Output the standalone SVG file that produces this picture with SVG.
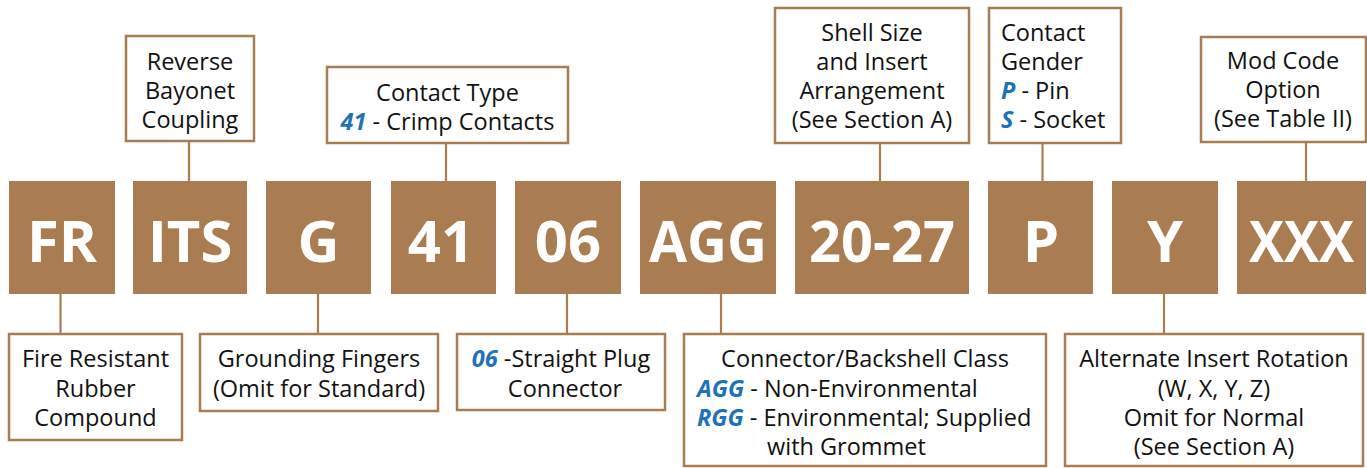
<svg xmlns="http://www.w3.org/2000/svg" width="1367" height="468" viewBox="0 0 1367 468">
<style>
.code{fill:#a97c52}
.ct{font-family:"Open Sans","Noto Sans",sans-serif;font-weight:700;font-size:58px;fill:#ffffff;text-anchor:middle}
.box{fill:#ffffff;stroke:#a97c52;stroke-width:2.5}
.lbl{font-family:"Open Sans","Noto Sans",sans-serif;font-size:23.5px;fill:#111111}
.mid{text-anchor:middle}
.hl{font-weight:700;font-style:italic;fill:#1f72b8}
.conn line{stroke:#a97c52;stroke-width:2.2}
</style>
<rect width="1367" height="468" fill="#ffffff"/>
<g class="conn" id="connectors">
<line x1="60.5" y1="294" x2="60.5" y2="334"/>
<line x1="189" y1="141" x2="189" y2="181"/>
<line x1="318" y1="294" x2="318" y2="334"/>
<line x1="446" y1="143" x2="446" y2="181"/>
<line x1="567" y1="294" x2="567" y2="334"/>
<line x1="721" y1="294" x2="721" y2="334"/>
<line x1="880" y1="143" x2="880" y2="181"/>
<line x1="1042.5" y1="143" x2="1042.5" y2="181"/>
<line x1="1164" y1="294" x2="1164" y2="334"/>
<line x1="1306" y1="142" x2="1306" y2="181"/>
</g>
<g id="code-FR"><rect class="code" x="9" y="181" width="106" height="113"/><text class="ct" x="62" y="262">FR</text></g>
<g id="code-ITS"><rect class="code" x="133" y="181" width="114" height="113"/><text class="ct" x="190" y="262">ITS</text></g>
<g id="code-G"><rect class="code" x="266" y="181" width="105" height="113"/><text class="ct" x="318.5" y="262">G</text></g>
<g id="code-41"><rect class="code" x="391" y="181" width="105" height="113"/><text class="ct" x="441" y="262">41</text></g>
<g id="code-06"><rect class="code" x="515" y="181" width="106" height="113"/><text class="ct" x="568" y="262">06</text></g>
<g id="code-AGG"><rect class="code" x="640" y="181" width="136" height="113"/><text class="ct" x="708" y="262" textLength="118" lengthAdjust="spacingAndGlyphs">AGG</text></g>
<g id="code-2027"><rect class="code" x="795" y="181" width="174" height="113"/><text class="ct" x="882" y="262" textLength="146" lengthAdjust="spacingAndGlyphs">20-27</text></g>
<g id="code-P"><rect class="code" x="988" y="181" width="105" height="113"/><text class="ct" x="1041" y="262">P</text></g>
<g id="code-Y"><rect class="code" x="1112" y="181" width="106" height="113"/><text class="ct" x="1165" y="262">Y</text></g>
<g id="code-XXX"><rect class="code" x="1237" y="181" width="129" height="113"/><text class="ct" x="1301.5" y="262" textLength="105" lengthAdjust="spacingAndGlyphs">XXX</text></g>

<g id="lbl-reverse"><rect class="box" x="126" y="36" width="128" height="105"/>
<text class="lbl mid" x="190" y="70">Reverse</text>
<text class="lbl mid" x="190" y="99">Bayonet</text>
<text class="lbl mid" x="190" y="128">Coupling</text></g>
<g id="lbl-contacttype"><rect class="box" x="327" y="67" width="241" height="76"/>
<text class="lbl mid" x="447.5" y="101">Contact Type</text>
<text class="lbl mid" x="447.5" y="130"><tspan class="hl">41</tspan> - Crimp Contacts</text></g>
<g id="lbl-shell"><rect class="box" x="775" y="8" width="194" height="135"/>
<text class="lbl mid" x="872" y="41">Shell Size</text>
<text class="lbl mid" x="872" y="70">and Insert</text>
<text class="lbl mid" x="872" y="99">Arrangement</text>
<text class="lbl mid" x="872" y="128">(See Section A)</text></g>
<g id="lbl-gender"><rect class="box" x="989" y="8" width="132" height="135"/>
<text class="lbl" x="1001" y="41">Contact</text>
<text class="lbl" x="1001" y="70">Gender</text>
<text class="lbl" x="1001" y="99"><tspan class="hl">P</tspan> - Pin</text>
<text class="lbl" x="1001" y="128"><tspan class="hl">S</tspan> - Socket</text></g>
<g id="lbl-mod"><rect class="box" x="1201" y="37" width="165" height="105"/>
<text class="lbl mid" x="1283" y="69">Mod Code</text>
<text class="lbl mid" x="1283" y="98">Option</text>
<text class="lbl mid" x="1283" y="127">(See Table II)</text></g>

<g id="lbl-fire"><rect class="box" x="9" y="334" width="173" height="106"/>
<text class="lbl mid" x="95.5" y="367">Fire Resistant</text>
<text class="lbl mid" x="95.5" y="397">Rubber</text>
<text class="lbl mid" x="95.5" y="426">Compound</text></g>
<g id="lbl-grounding"><rect class="box" x="200" y="334" width="238" height="77"/>
<text class="lbl mid" x="319" y="367">Grounding Fingers</text>
<text class="lbl mid" x="319" y="397">(Omit for Standard)</text></g>
<g id="lbl-straight"><rect class="box" x="457" y="334" width="208" height="76"/>
<text class="lbl mid" x="561" y="367"><tspan class="hl">06</tspan> -Straight Plug</text>
<text class="lbl mid" x="565" y="397">Connector</text></g>
<g id="lbl-class"><rect class="box" x="684" y="334" width="362" height="132"/>
<text class="lbl mid" x="865" y="367">Connector/Backshell Class</text>
<text class="lbl" x="697" y="397"><tspan class="hl">AGG</tspan> - Non-Environmental</text>
<text class="lbl" x="697" y="426"><tspan class="hl">RGG</tspan> - Environmental; Supplied</text>
<text class="lbl" x="767" y="455">with Grommet</text></g>
<g id="lbl-rotation"><rect class="box" x="1065" y="334" width="298" height="132"/>
<text class="lbl mid" x="1214" y="367">Alternate Insert Rotation</text>
<text class="lbl mid" x="1214" y="397">(W, X, Y, Z)</text>
<text class="lbl mid" x="1214" y="426">Omit for Normal</text>
<text class="lbl mid" x="1214" y="455">(See Section A)</text></g>
</svg>
